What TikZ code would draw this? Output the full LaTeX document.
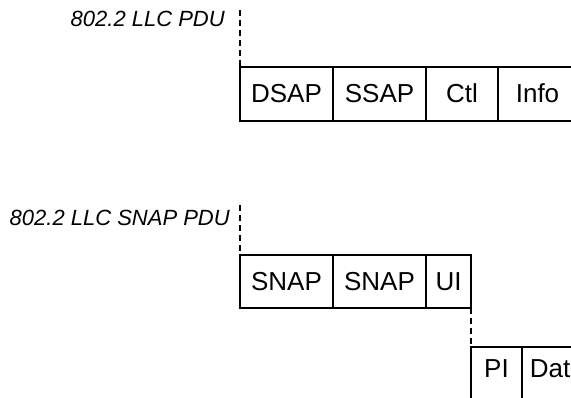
\documentclass[tikz,border=0pt]{standalone}
\usepackage{fontspec}
\setmainfont{Liberation Sans}
\begin{document}
\begin{tikzpicture}[x=1pt,y=-1pt,
  field/.style={draw, line width=2.6pt, minimum height=54pt, inner sep=0pt, outer sep=0pt,
    anchor=north west, font=\fontsize{26}{28}\selectfont, text height=18pt, text depth=0pt},
  lbl/.style={font=\fontsize{22}{24}\selectfont\itshape, anchor=east, inner sep=0pt},
  guide/.style={line width=1.3pt, dash pattern=on 6pt off 4pt}]
\useasboundingbox (0,0) rectangle (571,398);
\clip (0,0) rectangle (571,398);
% first PDU
\node[lbl] (l1) at (225,19) {802.2 LLC PDU};
\node[field, minimum width=93pt] (dsap) at (240,67) {DSAP};
\node[field, minimum width=93pt] (ssap) at (333,67) {SSAP};
\node[field, minimum width=72pt] (ctl) at (426,67) {Ctl};
\node[field, minimum width=79pt] (info) at (498,67) {Info};
\coordinate (t1) at (240,10);
\draw[guide] (t1) -- (dsap.north west);
% SNAP PDU
\node[lbl] (l2) at (230,218) {802.2 LLC SNAP PDU};
\node[field, minimum width=93pt, minimum height=53pt] (snapa) at (240,255) {SNAP};
\node[field, minimum width=93pt, minimum height=53pt] (snapb) at (333,255) {SNAP};
\node[field, minimum width=45pt, minimum height=53pt] (ui) at (426,255) {UI};
\coordinate (t2) at (240,205);
\draw[guide] (t2) -- (snapa.north west);
% PI / Data
\node[field, minimum width=51pt, text depth=11pt] (pi) at (471,347) {PI};
\node[field, minimum width=56pt, text depth=11pt] (dat) at (522,347) {Dat};
\draw[guide] (ui.south east) -- (pi.north west);
\end{tikzpicture}
\end{document}
